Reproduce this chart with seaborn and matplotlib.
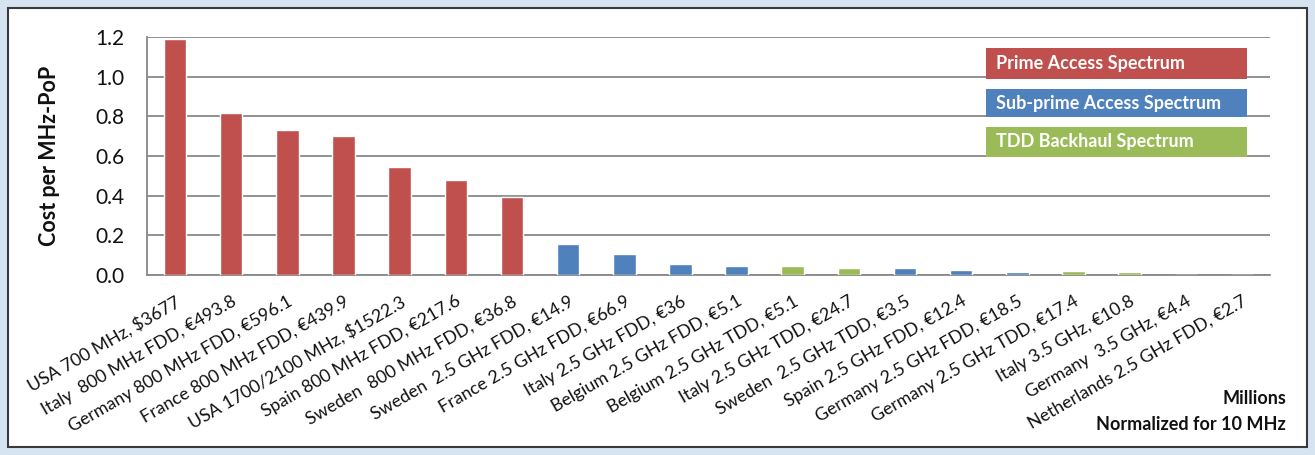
import matplotlib
matplotlib.use("Agg")
import matplotlib.pyplot as plt
from matplotlib.patches import Rectangle
import seaborn as sns
import pandas as pd

categories = [
    "USA 700 MHz, $3677",
    "Italy  800 MHz FDD, €493.8",
    "Germany 800 MHz FDD, €596.1",
    "France 800 MHz FDD, €439.9",
    "USA 1700/2100 MHz, $1522.3",
    "Spain 800 MHz FDD, €217.6",
    "Sweden  800 MHz FDD, €36.8",
    "Sweden  2.5 GHz FDD, €14.9",
    "France 2.5 GHz FDD, €66.9",
    "Italy 2.5 GHz FDD, €36",
    "Belgium 2.5 GHz FDD, €5.1",
    "Belgium 2.5 GHz TDD, €5.1",
    "Italy 2.5 GHz TDD, €24.7",
    "Sweden  2.5 GHz TDD, €3.5",
    "Spain 2.5 GHz FDD, €12.4",
    "Germany 2.5 GHz FDD, €18.5",
    "Germany 2.5 GHz TDD, €17.4",
    "Italy 3.5 GHz, €10.8",
    "Germany  3.5 GHz, €4.4",
    "Netherlands 2.5 GHz FDD, €2.7",
]
values = [1.19, 0.815, 0.73, 0.70, 0.545, 0.478, 0.393,
          0.156, 0.105, 0.057, 0.043, 0.043, 0.036, 0.033,
          0.024, 0.017, 0.019, 0.016, 0.0, 0.0]
groups = ["Prime"] * 7 + ["Sub-prime"] * 4 + ["TDD"] * 2 + ["Sub-prime"] * 3 + ["TDD"] * 2 + ["TDD"] * 2
legend_labels = ["Prime Access Spectrum", "Sub-prime Access Spectrum", "TDD Backhaul Spectrum"]
yticks = [0.0, 0.2, 0.4, 0.6, 0.8, 1.0, 1.2]

palette = {"Prime": "#C0504D", "Sub-prime": "#4F81BD", "TDD": "#9BBB59"}

df = pd.DataFrame({"cat": categories, "val": values, "grp": groups})

sns.set_style("white")
plt.rcParams["font.family"] = ["Lato", "DejaVu Sans"]

W, H = 1315, 455
fig = plt.figure(figsize=(W / 100, H / 100), dpi=100)
fig.patch.set_facecolor("#D6E4F2")
bg = Rectangle((8 / W, 8 / H), (1307 - 8) / W, (447 - 8) / H,
               transform=fig.transFigure, facecolor="white",
               edgecolor="#3a3a3a", linewidth=1.5, zorder=-10)
fig.patches.append(bg)

ax = fig.add_axes([147 / W, 1 - 275 / H, (1270 - 147) / W, (275 - 37) / H])
ax.set_zorder(1)
ax.set_facecolor("none")

sns.barplot(data=df, x="cat", y="val", hue="grp", palette=palette, dodge=False,
            width=0.40, legend=False, ax=ax, saturation=1, zorder=3)

ax.set_ylim(0, 1.2)
ax.set_xlim(-0.5, len(categories) - 0.5)
ax.set_yticks(yticks)
ax.set_yticklabels([f"{t:.1f}" for t in yticks], fontsize=15, color="#111111")
for t in yticks:
    ax.axhline(t, color="#888888", lw=1.3, zorder=1)
ax.tick_params(axis="y", length=7, width=1.3, color="#888888", pad=9)

ax.set_xticks(range(len(categories)))
ax.set_xticklabels(categories, rotation=30, ha="right", rotation_mode="anchor",
                   fontsize=12.8, color="#111111")
ax.tick_params(axis="x", which="major", length=0, pad=13)
ax.set_xticks([i - 0.5 for i in range(len(categories) + 1)], minor=True)
ax.tick_params(axis="x", which="minor", length=7, width=1.3, color="#888888")

for s in ["top", "right"]:
    ax.spines[s].set_visible(False)
ax.spines["left"].set_color("#888888")
ax.spines["left"].set_linewidth(1.3)
ax.spines["bottom"].set_color("#888888")
ax.spines["bottom"].set_linewidth(1.3)

ax.set_xlabel("")
ax.set_ylabel("Cost per MHz-PoP", fontsize=15.5, fontweight="bold", labelpad=26, color="#111111")

# legend boxes
box_rows = [(48, 79), (89, 117), (127, 157)]
for (y0, y1), lab, key in zip(box_rows, legend_labels, ["Prime", "Sub-prime", "TDD"]):
    fig.patches.append(Rectangle((986 / W, 1 - y1 / H), (1247 - 986) / W, (y1 - y0) / H,
                                 transform=fig.transFigure, facecolor=palette[key],
                                 edgecolor="none", zorder=5))
    fig.text(996 / W, 1 - (y0 + y1) / 2 / H, lab, color="white", fontsize=13,
             fontweight="bold", va="center", ha="left", zorder=6)

fig.text(1286 / W, 1 - 399 / H, "Millions", fontsize=13, fontweight="bold",
         ha="right", va="center", color="#111111")
fig.text(1286 / W, 1 - 424 / H, "Normalized for 10 MHz", fontsize=13, fontweight="bold",
         ha="right", va="center", color="#111111")

fig.savefig("out.png", dpi=100, facecolor=fig.get_facecolor())
